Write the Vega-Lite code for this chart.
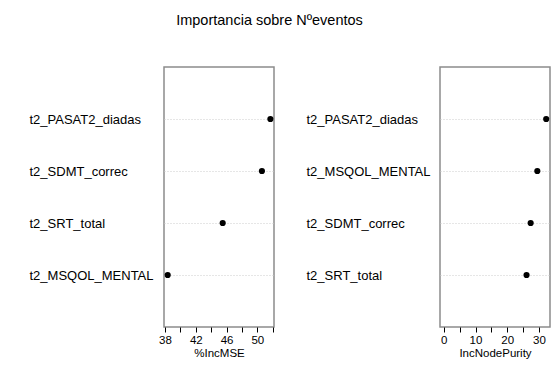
{
  "$schema": "https://vega.github.io/schema/vega-lite/v6.json",
  "padding": {"left": 28, "top": 12, "right": 4, "bottom": 4},
  "background": "white",
  "title": {"text": "Importancia sobre Nºeventos", "fontSize": 14.5, "fontWeight": "normal", "font": "Liberation Sans", "color": "black", "offset": 38, "anchor": "middle", "dx": -20},
  "datasets": {
    "mse": [
      {"var": "t2_PASAT2_diadas", "value": 51.7},
      {"var": "t2_SDMT_correc", "value": 50.6},
      {"var": "t2_SRT_total", "value": 45.5},
      {"var": "t2_MSQOL_MENTAL", "value": 38.35}
    ],
    "purity": [
      {"var": "t2_PASAT2_diadas", "value": 32.3},
      {"var": "t2_MSQOL_MENTAL", "value": 29.5},
      {"var": "t2_SDMT_correc", "value": 27.4},
      {"var": "t2_SRT_total", "value": 26.1}
    ]
  },
  "config": {
    "font": "Liberation Sans",
    "view": {"stroke": "#8c8c8c", "strokeWidth": 1.5},
    "axis": {"labelColor": "black", "titleColor": "black", "tickColor": "black", "labelFont": "Liberation Sans", "titleFont": "Liberation Sans"}
  },
  "spacing": 30,
  "hconcat": [
    {
      "data": {"name": "mse"},
      "width": 110,
      "height": 260,
      "mark": {"type": "point", "filled": true, "color": "black", "opacity": 1, "size": 38},
      "encoding": {
        "y": {"field": "var", "type": "nominal", "sort": ["t2_PASAT2_diadas", "t2_SDMT_correc", "t2_SRT_total", "t2_MSQOL_MENTAL"],
          "scale": {"type": "point", "padding": 1},
          "axis": {"title": null, "domain": false, "ticks": false, "tickSize": 0, "labelAlign": "left", "labelPadding": 135, "labelFontSize": 13, "labelLimit": 0, "grid": true, "gridDash": [1, 2], "gridColor": "#cccccc", "gridWidth": 1}},
        "x": {"field": "value", "type": "quantitative", "scale": {"domain": [37.87, 52.17], "nice": false, "zero": false},
          "axis": {"title": "%IncMSE", "titleFontSize": 11.5, "titleFontWeight": "normal", "titlePadding": 2, "values": [38, 40, 42, 44, 46, 48, 50, 52], "labelExpr": "datum.value % 4 == 2 ? datum.label : ''", "labelFontSize": 11.5, "labelPadding": 2, "tickSize": 5, "domain": false, "grid": false, "labelFlush": false, "labelOverlap": false}}
      }
    },
    {
      "data": {"name": "purity"},
      "width": 110,
      "height": 260,
      "mark": {"type": "point", "filled": true, "color": "black", "opacity": 1, "size": 38},
      "encoding": {
        "y": {"field": "var", "type": "nominal", "sort": ["t2_PASAT2_diadas", "t2_MSQOL_MENTAL", "t2_SDMT_correc", "t2_SRT_total"],
          "scale": {"type": "point", "padding": 1},
          "axis": {"title": null, "domain": false, "ticks": false, "tickSize": 0, "labelAlign": "left", "labelPadding": 134, "labelFontSize": 13, "labelLimit": 0, "grid": true, "gridDash": [1, 2], "gridColor": "#cccccc", "gridWidth": 1}},
        "x": {"field": "value", "type": "quantitative", "scale": {"domain": [-1.2, 33.5], "nice": false, "zero": false},
          "axis": {"title": "IncNodePurity", "titleFontSize": 11.5, "titleFontWeight": "normal", "titlePadding": 2, "values": [0, 5, 10, 15, 20, 25, 30], "labelExpr": "datum.value % 10 == 0 ? datum.label : ''", "labelFontSize": 11.5, "labelPadding": 2, "tickSize": 5, "domain": false, "grid": false, "labelFlush": false, "labelOverlap": false}}
      }
    }
  ]
}
